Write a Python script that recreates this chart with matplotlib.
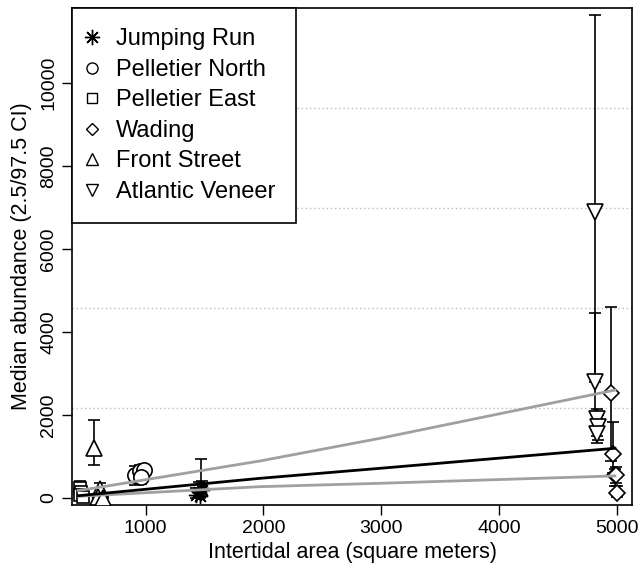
import numpy as np
import matplotlib
matplotlib.use("Agg")
import matplotlib.pyplot as plt
from matplotlib.lines import Line2D

plt.rcParams['font.family'] = ['Liberation Sans', 'DejaVu Sans']

# site data: area (x), median abundance, lower 2.5 CI, upper 97.5 CI
sites = ["Jumping Run", "Pelletier North", "Pelletier East", "Wading",
         "Front Street", "Atlantic Veneer"]
markers = [(8, 2, 0), "o", "s", "D", "^", "v"]

jr_x = [1430, 1450, 1470, 1460, 1480]
jr_med = [80, 150, 250, 40, 200]
jr_lo = [10, 30, 100, 0, 60]
jr_hi = [250, 380, 940, 150, 400]

pn_x = [910, 950, 990, 960]
pn_med = [560, 640, 680, 500]
pn_lo = [320, 380, 450, 330]
pn_hi = [770, 800, 760, 700]

pe_x = [445, 455, 440, 470]
pe_med = [250, 150, 80, 30]
pe_lo = [100, 50, 20, 0]
pe_hi = [420, 300, 200, 80]

wa_x = [4950, 4970, 4985, 4995, 5000]
wa_med = [2520, 1050, 550, 560, 130]
wa_lo = [900, 600, 300, 350, 30]
wa_hi = [4600, 1820, 700, 750, 300]

fs_x = [560, 615, 600, 640]
fs_med = [1200, 220, 30, 10]
fs_lo = [800, 60, 0, 0]
fs_hi = [1870, 370, 80, 50]

av_x = [4816, 4816, 4830, 4840, 4830]
av_med = [6900, 2800, 1900, 1700, 1550]
av_lo = [2800, 1700, 1500, 1400, 1330]
av_hi = [11650, 4450, 2150, 2000, 1900]

# fitted lines
fit_x = [430, 640, 1972, 2990, 4985]
fit_mid = [55, 112, 474, 715, 1198]
fit_up = [180, 273, 892, 1438, 2600]
fit_lo = [40, 72, 273, 354, 532]

grid_y = [2170, 4580, 6990, 9400]
xticks = [1000, 2000, 3000, 4000, 5000]
yticks = [0, 2000, 4000, 6000, 8000, 10000]

data = [
    (jr_x, jr_med, jr_lo, jr_hi),
    (pn_x, pn_med, pn_lo, pn_hi),
    (pe_x, pe_med, pe_lo, pe_hi),
    (wa_x, wa_med, wa_lo, wa_hi),
    (fs_x, fs_med, fs_lo, fs_hi),
    (av_x, av_med, av_lo, av_hi),
]
msizes = [11, 11, 9, 8, 12, 12]
mews = [1.0, 1.2, 1.2, 1.2, 1.2, 1.2]
leg_sizes = [11, 8, 6.5, 6, 8.5, 8.5]

fig = plt.figure(figsize=(6.38, 5.64), dpi=100)
ax = fig.add_axes([0.1129, 0.1046, 0.8777, 0.8812])

for gy in grid_y:
    ax.axhline(gy, color="#bbbbbb", lw=1, ls=(0, (1, 2)), zorder=0)

for (x, med, lo, hi), m, ms, mw in zip(data, markers, msizes, mews):
    x = np.array(x)
    med = np.array(med)
    yerr = [med - np.array(lo), np.array(hi) - med]
    ax.errorbar(x, med, yerr=yerr, fmt="none", ecolor="black",
                elinewidth=1.2, capsize=4, capthick=1.2, zorder=2)
    ax.plot(x, med, ls="none", marker=m, ms=ms, mfc="white", mec="black",
            mew=mw, zorder=3)

ax.plot(fit_x, fit_up, color="#a0a0a0", lw=2, zorder=4)
ax.plot(fit_x, fit_lo, color="#a0a0a0", lw=2, zorder=4)
ax.plot(fit_x, fit_mid, color="black", lw=2, zorder=4)

ax.set_xlim(376, 5130)
ax.set_ylim(-169, 11807)
ax.set_xticks(xticks)
ax.set_yticks(yticks)
ax.tick_params(labelsize=14, length=7, width=1)
for lab in ax.get_yticklabels():
    lab.set_rotation(90)
    lab.set_va("center")
ax.set_xlabel("Intertidal area (square meters)", fontsize=15.5, labelpad=4)
ax.set_ylabel("Median abundance (2.5/97.5 CI)", fontsize=15.5, labelpad=6)
for s in ax.spines.values():
    s.set_linewidth(1.2)

handles = [Line2D([], [], ls="none", marker=m, ms=ms, mfc="white",
                  mec="black", mew=1.0) for m, ms in zip(markers, leg_sizes)]
leg = ax.legend(handles, sites, loc="upper left", bbox_to_anchor=(0, 1),
                borderaxespad=0, fontsize=17, frameon=True, fancybox=False,
                framealpha=1, edgecolor="black", labelspacing=0.36,
                handlelength=0.0, handletextpad=1.0, borderpad=0.86)
leg.get_frame().set_linewidth(1.2)
leg.set_zorder(10)

fig.savefig("out.png", dpi=100)
